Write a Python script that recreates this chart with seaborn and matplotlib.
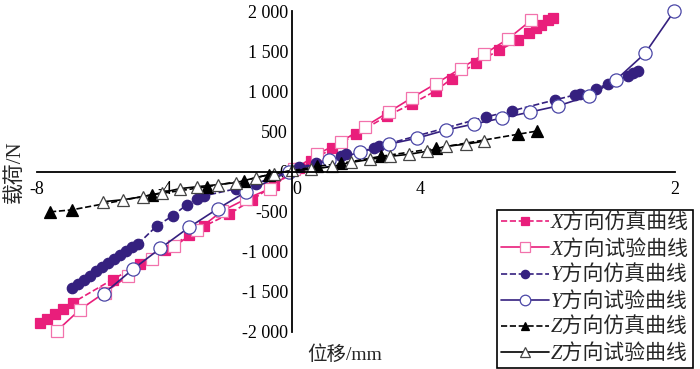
import numpy as np
import matplotlib
matplotlib.use("Agg")
import matplotlib.pyplot as plt
import seaborn as sns

# ── data (displacement mm, load N) ───────────────────────────────────────────
x_sim_d = [-7.91, -7.69, -7.44, -7.19, -6.88, -5.63, -4.78, -4.0, -3.22, -2.75,
           -1.97, -1.25, -0.56, 0.22, 0.59, 1.25, 2.0, 2.97, 3.75, 4.5, 5.0,
           5.75, 6.47, 7.09, 7.41, 7.63, 7.81, 8.03, 8.19]
x_sim_f = [-1887, -1837, -1774, -1711, -1635, -1346, -1157, -981, -792, -679,
           -528, -352, -164, 38, 126, 289, 465, 692, 843, 1006, 1157,
           1346, 1509, 1635, 1723, 1786, 1824, 1887, 1912]

x_test_d = [-7.38, -6.66, -5.88, -5.16, -4.41, -3.69, -2.97, -2.19, -1.44, -0.69,
            0.06, 0.78, 1.53, 2.28, 3.03, 3.75, 4.5, 5.28, 6.0, 6.75, 7.5]
x_test_f = [-1987, -1723, -1509, -1308, -1094, -931, -730, -491, -340, -214,
            25, 214, 369, 560, 742, 918, 1094, 1283, 1459, 1648, 1887]

y_sim_d = [-6.91, -6.72, -6.53, -6.34, -6.16, -5.97, -5.78, -5.59, -5.41, -5.22,
           -5.03, -4.84, -4.25, -3.75, -3.31, -3.0, -2.75, -1.75, -1.13, 0.22,
           0.75, 1.53, 1.69, 2.56, 2.72, 6.06, 6.88, 8.25, 8.88, 9.03, 9.53,
           9.91, 10.53, 10.69, 10.84]
y_sim_f = [-1447, -1396, -1346, -1296, -1245, -1195, -1145, -1094, -1044, -994,
           -943, -906, -679, -553, -415, -340, -302, -214, -151, 50,
           101, 189, 214, 289, 314, 679, 755, 893, 956, 969, 1031,
           1094, 1195, 1233, 1258]

y_test_d = [-5.91, -5.0, -4.13, -3.22, -2.34, -1.44, -0.09, 1.16, 2.13, 3.03,
            3.91, 4.81, 5.69, 6.59, 7.47, 8.34, 9.31, 10.16, 11.06, 11.97]
y_test_f = [-1522, -1220, -956, -692, -465, -252, 0, 138, 239, 340,
            415, 516, 591, 667, 742, 818, 943, 1145, 1472, 1995]

z_sim_d = [-7.59, -6.91, -4.38, -2.66, -1.5, -0.72, 0.78, 1.53, 2.78, 4.5, 7.09, 7.66]
z_sim_f = [-503, -478, -289, -189, -113, -38, 63, 101, 189, 289, 465, 503]

z_test_d = [-5.94, -5.31, -4.69, -4.09, -3.53, -2.97, -2.34, -1.75, -1.13, -0.56,
            0.0, 0.59, 1.25, 1.84, 2.44, 3.06, 3.66, 4.22, 4.81, 5.44, 6.0]
z_test_f = [-377, -352, -314, -264, -214, -189, -164, -138, -75, -25,
            13, 25, 63, 113, 151, 189, 214, 252, 314, 340, 377]

labels = ["X方向仿真曲线", "X方向试验曲线",
          "Y方向仿真曲线", "Y方向试验曲线",
          "Z方向仿真曲线", "Z方向试验曲线"]

x_ticks = [-8, -4, 0, 4, 8, 12]
x_ticklabels = ["-8", "-4", "0", "4", "", "2"]
y_ticks = [-2000, -1500, -1000, -500, 0, 500, 1000, 1500, 2000]
y_ticklabels = ["-2 000", "-1 500", "-1 000", "-500", "0",
                "500", "1 000", "1 500", "2 000"]

# ── style ────────────────────────────────────────────────────────────────────
sns.set_style("white")
plt.rcParams["font.family"] = ["Liberation Serif", "Noto Sans CJK SC"]

PINK = "#E91E7B"
PINK_L = "#F272AC"
INDIGO = "#35207F"
INDIGO_L = "#4A46A6"
DASH = (4, 2)

fig = plt.figure(figsize=(7.0, 3.69), dpi=100)
ax = fig.add_axes([37 / 700, 1 - 332 / 369, 638 / 700, 321 / 369])

series = [
    (x_sim_d, x_sim_f, dict(color=PINK, marker="s", markersize=7, linestyle="--", dashes=DASH,
                            markerfacecolor=PINK, markeredgecolor=PINK)),
    (x_test_d, x_test_f, dict(color=PINK, marker="s", markersize=9, linestyle="-",
                              markerfacecolor="white", markeredgecolor=PINK_L)),
    (y_sim_d, y_sim_f, dict(color=INDIGO, marker="o", markersize=7.5, linestyle="--", dashes=DASH,
                            markerfacecolor=INDIGO, markeredgecolor=INDIGO)),
    (y_test_d, y_test_f, dict(color=INDIGO, marker="o", markersize=9.5, linestyle="-",
                              markerfacecolor="white", markeredgecolor=INDIGO_L)),
    (z_sim_d, z_sim_f, dict(color="black", marker="^", markersize=8, linestyle="--", dashes=DASH,
                            markerfacecolor="black", markeredgecolor="black")),
    (z_test_d, z_test_f, dict(color="black", marker="^", markersize=9, linestyle="-",
                              markerfacecolor="white", markeredgecolor="#444444")),
]

for (xd, yd, kw), lab in zip(series, labels):
    sns.lineplot(x=xd, y=yd, ax=ax, sort=False, estimator=None, label=lab,
                 linewidth=1.2, markeredgewidth=0.9, clip_on=False, **kw)

ax.set_xlim(-8, 12)
ax.set_ylim(-2000, 2000)

for side in ("top", "right"):
    ax.spines[side].set_visible(False)
ax.spines["left"].set_position(("data", 0))
ax.spines["bottom"].set_position(("data", 0))
for side in ("left", "bottom"):
    ax.spines[side].set_linewidth(1.3)
    ax.spines[side].set_color("black")

ax.set_xticks(x_ticks)
ax.set_xticklabels(x_ticklabels)
ax.set_yticks(y_ticks)
ax.set_yticklabels(y_ticklabels)
ax.tick_params(axis="both", direction="in", length=5, width=1.3, labelsize=13,
               colors="black")
ax.tick_params(axis="x", pad=7)
ax.tick_params(axis="y", pad=3)
ax.set_xlabel("")
ax.set_ylabel("")
# the x "0" label sits just right of the y axis
for t in ax.get_xticklabels():
    if t.get_text() == "0":
        t.set_horizontalalignment("left")

fig.text(15 / 700, 1 - 172 / 369, "载荷/N", rotation=90, ha="center", va="center",
         fontsize=15)
fig.text(345 / 700, 1 - 355 / 369, "位移/mm", ha="center", va="center", fontsize=14)

leg = ax.legend(loc="lower right", bbox_to_anchor=(693 / 700, 1 / 369),
                bbox_transform=fig.transFigure, fontsize=15, frameon=True,
                fancybox=False, edgecolor="black", framealpha=1,
                handlelength=2.3, handletextpad=0.1, labelspacing=0.29,
                borderpad=0.2, borderaxespad=0, markerscale=0.8)
leg.get_frame().set_linewidth(1.2)
for t in leg.get_texts():
    t.set_fontstyle("italic")

fig.savefig("out.png", dpi=100)
